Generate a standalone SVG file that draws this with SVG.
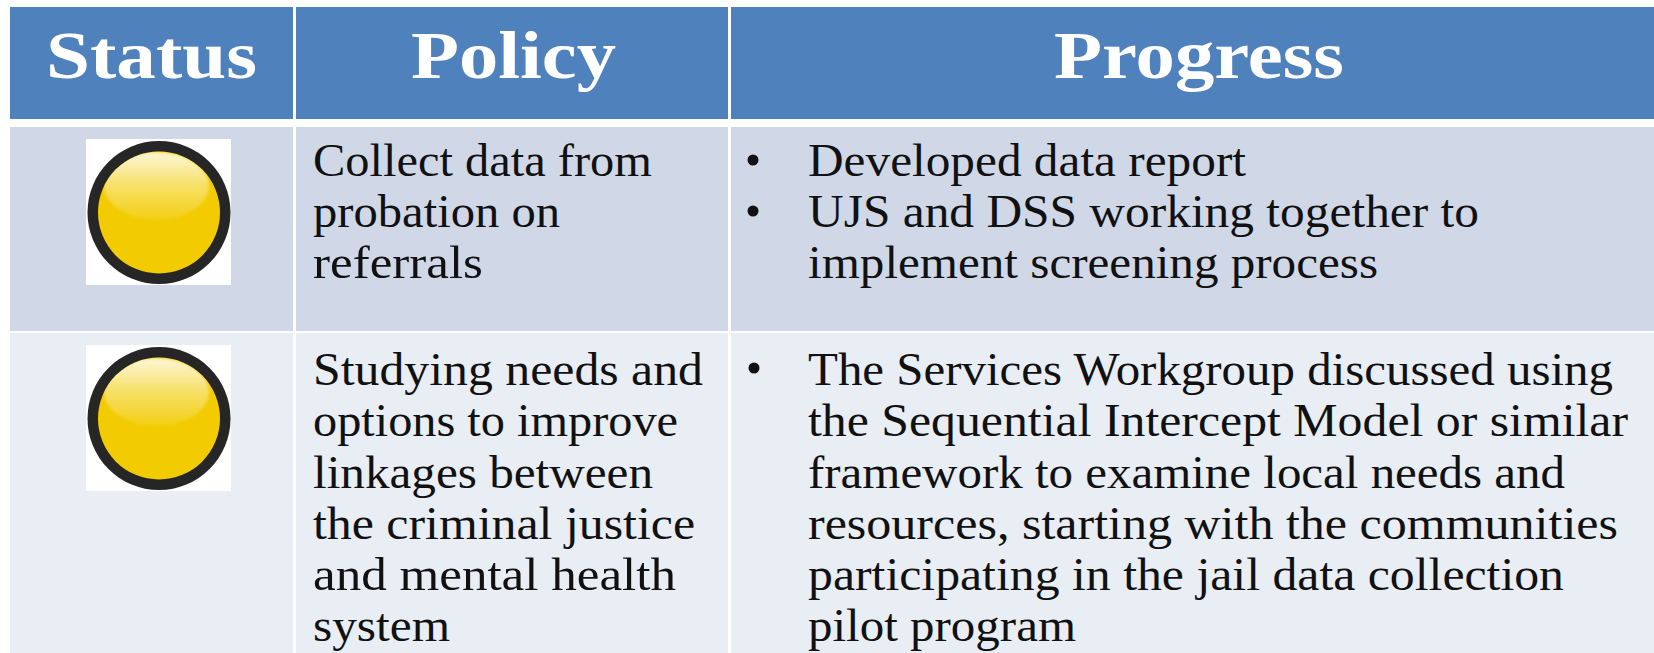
<svg xmlns="http://www.w3.org/2000/svg" width="1654" height="653" viewBox="0 0 1654 653">
<style>
.h{fill:#4F81BD}.r1{fill:#D0D8E8}.r2{fill:#E9EDF4}
text{font-family:"Liberation Serif","Times New Roman",serif}
.th{font-size:68px;font-weight:700;fill:#fff}
.td{font-size:46px;fill:#111}
.b{fill:#111}
</style>
<defs>
<linearGradient id="sh" x1="0" y1="0" x2="0" y2="1"><stop offset="0" stop-color="#fff" stop-opacity=".85"/><stop offset=".5" stop-color="#fff" stop-opacity=".4"/><stop offset="1" stop-color="#fff" stop-opacity=".08"/></linearGradient>
<filter id="soft" x="-10%" y="-10%" width="120%" height="120%"><feGaussianBlur stdDeviation="1.6"/></filter>
<filter id="edge" x="-5%" y="-5%" width="110%" height="110%"><feGaussianBlur stdDeviation="0.6"/></filter>
<clipPath id="face"><circle cx="159" cy="212.5" r="61"/></clipPath>
<g id="lamp">
<rect x="86" y="139" width="145" height="146" fill="#fff"/>
<circle cx="159" cy="212.5" r="71.5" fill="#262626" filter="url(#edge)"/>
<circle cx="159" cy="212.5" r="61" fill="#F2CB00" filter="url(#edge)"/>
<g clip-path="url(#face)"><ellipse cx="156.5" cy="186" rx="52.5" ry="34" fill="url(#sh)" filter="url(#soft)"/></g>
</g>
</defs>
<rect width="1654" height="653" fill="#fff"/>
<g id="header-status"><rect class="h" x="10" y="7" width="283" height="112"/><text class="th" x="46" y="78" textLength="211" lengthAdjust="spacingAndGlyphs">Status</text></g>
<g id="header-policy"><rect class="h" x="296" y="7" width="432" height="112"/><text class="th" x="411" y="78" textLength="205" lengthAdjust="spacingAndGlyphs">Policy</text></g>
<g id="header-progress"><rect class="h" x="731" y="7" width="923" height="112"/><text class="th" x="1054" y="78" textLength="290" lengthAdjust="spacingAndGlyphs">Progress</text></g>
<g id="row1-status"><rect class="r1" x="10" y="127" width="283" height="204"/><use href="#lamp"/></g>
<g id="row1-policy"><rect class="r1" x="296" y="127" width="432" height="204"/>
<text class="td" x="313" y="176" textLength="339" lengthAdjust="spacingAndGlyphs">Collect data from</text>
<text class="td" x="313" y="227" textLength="247" lengthAdjust="spacingAndGlyphs">probation on</text>
<text class="td" x="313" y="278" textLength="170" lengthAdjust="spacingAndGlyphs">referrals</text></g>
<g id="row1-progress"><rect class="r1" x="731" y="127" width="923" height="204"/>
<circle class="b" cx="753" cy="160" r="5.5"/><circle class="b" cx="753" cy="211" r="5.5"/>
<text class="td" x="808" y="176" textLength="438" lengthAdjust="spacingAndGlyphs">Developed data report</text>
<text class="td" x="808" y="227" textLength="671" lengthAdjust="spacingAndGlyphs">UJS and DSS working together to</text>
<text class="td" x="808" y="278" textLength="570" lengthAdjust="spacingAndGlyphs">implement screening process</text></g>
<g id="row2-status"><rect class="r2" x="10" y="333" width="283" height="320"/><use href="#lamp" y="206"/></g>
<g id="row2-policy"><rect class="r2" x="296" y="333" width="432" height="320"/>
<text class="td" x="313" y="385" textLength="390" lengthAdjust="spacingAndGlyphs">Studying needs and</text>
<text class="td" x="313" y="436" textLength="365" lengthAdjust="spacingAndGlyphs">options to improve</text>
<text class="td" x="313" y="488" textLength="340" lengthAdjust="spacingAndGlyphs">linkages between</text>
<text class="td" x="313" y="539" textLength="382" lengthAdjust="spacingAndGlyphs">the criminal justice</text>
<text class="td" x="313" y="590" textLength="363" lengthAdjust="spacingAndGlyphs">and mental health</text>
<text class="td" x="313" y="641" textLength="137" lengthAdjust="spacingAndGlyphs">system</text></g>
<g id="row2-progress"><rect class="r2" x="731" y="333" width="923" height="320"/>
<circle class="b" cx="754" cy="368" r="5.5"/>
<text class="td" x="808" y="385" textLength="805" lengthAdjust="spacingAndGlyphs">The Services Workgroup discussed using</text>
<text class="td" x="808" y="436" textLength="820" lengthAdjust="spacingAndGlyphs">the Sequential Intercept Model or similar</text>
<text class="td" x="808" y="488" textLength="757" lengthAdjust="spacingAndGlyphs">framework to examine local needs and</text>
<text class="td" x="808" y="539" textLength="810" lengthAdjust="spacingAndGlyphs">resources, starting with the communities</text>
<text class="td" x="808" y="590" textLength="756" lengthAdjust="spacingAndGlyphs">participating in the jail data collection</text>
<text class="td" x="808" y="641" textLength="268" lengthAdjust="spacingAndGlyphs">pilot program</text></g>
</svg>
